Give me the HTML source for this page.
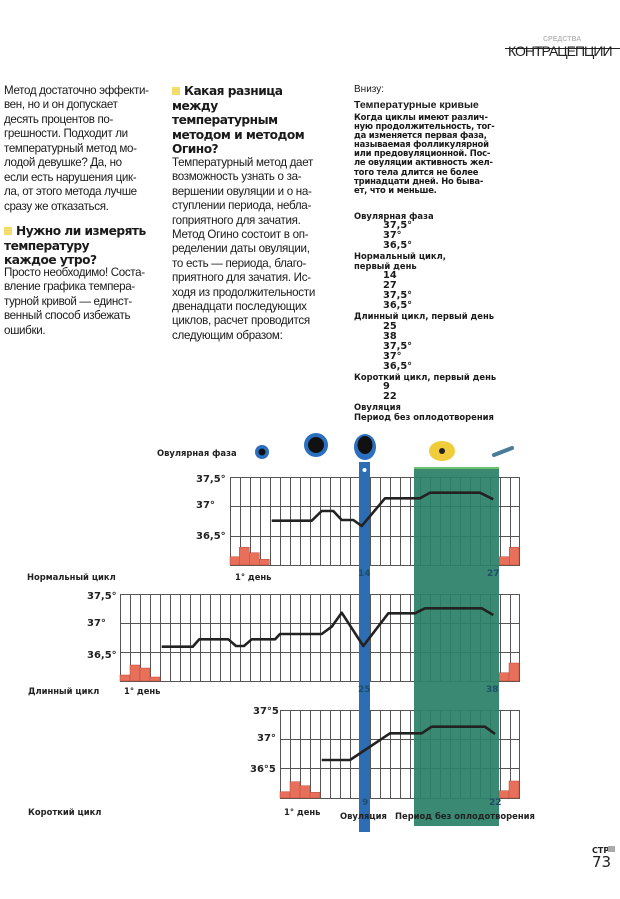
<!DOCTYPE html>
<html><head><meta charset="utf-8"><style>
html,body{margin:0;padding:0;background:#fff;}
body{width:620px;height:899px;position:relative;overflow:hidden;font-family:"Liberation Sans","DejaVu Sans",sans-serif;color:#1a1a1a;}
.t{position:absolute;white-space:nowrap;}
.c1{left:4px;top:84px;font-size:11.6px;line-height:14.45px;letter-spacing:-0.35px;}
.c2{left:172px;font-size:11.6px;line-height:14.4px;letter-spacing:-0.3px;}
.h{font-weight:bold;font-family:"DejaVu Sans","Liberation Sans",sans-serif;font-size:12.2px;line-height:14.5px;letter-spacing:-0.5px;}
.sq{display:inline-block;width:8px;height:8px;background:#f3dc6a;margin-right:4px;}
.r{left:354px;font-size:8.4px;line-height:10.3px;font-weight:bold;font-family:"DejaVu Sans",sans-serif;}
.ind{padding-left:29px;font-size:9.8px}
</style></head><body>
<div class="t" style="left:543px;top:36px;font-size:7px;color:#bbb;font-weight:bold">СРЕДСТВА</div>
<div style="position:absolute;left:505px;top:48px;width:115px;height:1px;background:#222"></div>
<div class="t" style="left:508px;top:43px;font-size:14px;letter-spacing:-1px;color:#222">КОНТРАЦЕПЦИИ</div>

<div class="t c1">Метод достаточно эффекти-<br>вен, но и он допускает<br>десять процентов по-<br>грешности. Подходит ли<br>температурный метод мо-<br>лодой девушке? Да, но<br>если есть нарушения цик-<br>ла, от этого метода лучше<br>сразу же отказаться.</div>
<div class="t h" style="left:4px;top:224px"><span class="sq"></span>Нужно ли измерять<br>температуру<br>каждое утро?</div>
<div class="t c1" style="top:266px">Просто необходимо! Соста-<br>вление графика темпера-<br>турной кривой — единст-<br>венный способ избежать<br>ошибки.</div>

<div class="t h" style="left:172px;top:84px"><span class="sq"></span>Какая разница<br>между<br>температурным<br>методом и методом<br>Огино?</div>
<div class="t c2" style="top:156px">Температурный метод дает<br>возможность узнать о за-<br>вершении овуляции и о на-<br>ступлении периода, небла-<br>гоприятного для зачатия.<br>Метод Огино состоит в оп-<br>ределении даты овуляции,<br>то есть — периода, благо-<br>приятного для зачатия. Ис-<br>ходя из продолжительности<br>двенадцати последующих<br>циклов, расчет проводится<br>следующим образом:</div>

<div class="t" style="left:354px;top:84px;font-size:10px">Внизу:</div>
<div class="t" style="left:354px;top:99px;font-size:10.5px;font-weight:bold">Температурные кривые</div>
<div class="t r" style="top:113px;line-height:9.1px;letter-spacing:-0.2px">Когда циклы имеют различ-<br>ную продолжительность, тог-<br>да изменяется первая фаза,<br>называемая фолликулярной<br>или предовуляционной. Пос-<br>ле овуляции активность жел-<br>того тела длится не более<br>тринадцати дней. Но быва-<br>ет, что и меньше.</div>
<div class="t r" style="top:211px;line-height:10.05px">Овулярная фаза<br><div class="ind">37,5°<br>37°<br>36,5°</div>Нормальный цикл,<br>первый день<br><div class="ind">14<br>27<br>37,5°<br>36,5°</div>Длинный цикл, первый день<br><div class="ind">25<br>38<br>37,5°<br>37°<br>36,5°</div>Короткий цикл, первый день<br><div class="ind">9<br>22</div>Овуляция<br>Период без оплодотворения</div>

<svg width="620" height="899" style="position:absolute;left:0;top:0" font-family="DejaVu Sans, Liberation Sans, sans-serif" font-weight="bold">
<defs>
<pattern id="v1" x="0" y="0" width="10" height="10" patternUnits="userSpaceOnUse"><rect x="0" y="0" width="1" height="10" fill="#555"/></pattern>
</defs>
<g>
<rect x="230" y="477" width="289" height="88" fill="url(#v1)"/>
<rect x="230.5" y="477.5" width="289" height="88" fill="none" stroke="#555"/>
<line x1="230" y1="506.5" x2="519" y2="506.5" stroke="#555"/><line x1="230" y1="536.5" x2="519" y2="536.5" stroke="#555"/>
<rect x="120" y="594" width="399" height="87" fill="url(#v1)"/>
<rect x="120.5" y="594.5" width="399" height="87" fill="none" stroke="#555"/>
<line x1="120" y1="623.5" x2="519" y2="623.5" stroke="#555"/><line x1="120" y1="652.5" x2="519" y2="652.5" stroke="#555"/>
<rect x="280" y="710" width="239" height="88" fill="url(#v1)"/>
<rect x="280.5" y="710.5" width="239" height="88" fill="none" stroke="#555"/>
<line x1="280" y1="739.5" x2="519" y2="739.5" stroke="#555"/><line x1="280" y1="768.5" x2="519" y2="768.5" stroke="#555"/>
</g>
<g fill="#e8705a" stroke="#b94a3a" stroke-width="0.5">
<rect x="230" y="556.7" width="9.3" height="8.3"/><rect x="239.3" y="547.3" width="10" height="17.7"/><rect x="249.3" y="552.7" width="10" height="12.3"/><rect x="259.3" y="559.3" width="10" height="5.7"/>
<rect x="499.3" y="556.7" width="10" height="8.3"/><rect x="509.3" y="547.3" width="9.7" height="17.7"/>
<rect x="120" y="675" width="10" height="6"/><rect x="130" y="665" width="10" height="16"/><rect x="140" y="668" width="10" height="13"/><rect x="150" y="677" width="10" height="4"/>
<rect x="499" y="672.7" width="10" height="8.3"/><rect x="509" y="663" width="10" height="18"/>
<rect x="280" y="791.7" width="10" height="6.3"/><rect x="290" y="781.7" width="10" height="16.3"/><rect x="300" y="785.7" width="10" height="12.3"/><rect x="310" y="792.3" width="10" height="5.7"/>
<rect x="499" y="790.7" width="10" height="7.3"/><rect x="509" y="781" width="10" height="17"/>
</g>
<rect x="414" y="467" width="85" height="359" fill="#2a8068" opacity="0.93"/>
<rect x="414" y="467" width="85" height="2" fill="#6fc06a"/>
<rect x="359" y="462" width="11" height="370" fill="#2c6db4"/>
<circle cx="364.5" cy="470" r="2" fill="#fff"/>
<circle cx="262" cy="452" r="7" fill="#2a6fc0"/><circle cx="262" cy="452" r="3.5" fill="#111"/>
<circle cx="316" cy="445" r="12" fill="#2a6fc0"/><circle cx="316" cy="445" r="8" fill="#111"/>
<ellipse cx="365" cy="447" rx="11" ry="13" fill="#2a6fc0"/><ellipse cx="365" cy="445" rx="7.5" ry="9" fill="#111"/>
<ellipse cx="442" cy="451" rx="13" ry="10" fill="#f0cc3a"/><circle cx="442" cy="451" r="3" fill="#222"/>
<line x1="494" y1="455" x2="512" y2="448" stroke="#4a7c9a" stroke-width="4" stroke-linecap="round"/>
<g fill="none" stroke="#222" stroke-width="2.6" stroke-linejoin="round">
<polyline points="271.7,520.7 311.7,520.7 321.7,511 333.3,511 341.7,520 353.3,520 361.7,526 385,498.3 420,498.3 430,492.7 480,492.7 493.3,499.3"/>
<polyline points="161.7,646.7 192.7,646.7 199.3,639.3 228.3,639.3 236,646 244,646 251.7,639.3 275,639.3 280,634 321.7,634 331.7,626.7 341.7,612.7 363.3,646 388.3,613.3 415,613.3 425,608.3 481.7,608.3 493.3,615"/>
<polyline points="321.7,760 350,760 390,733.3 421.7,733.3 431.7,726.7 485,726.7 495,734"/>
</g>
<g font-size="8.4" fill="#222" font-weight="bold">
<text x="157" y="456">Овулярная фаза</text>
<text x="27" y="580">Нормальный цикл</text>
<text x="28" y="694">Длинный цикл</text>
<text x="28" y="815">Короткий цикл</text>
<text x="235" y="580">1° день</text>
<text x="124" y="694">1° день</text>
<text x="284" y="815">1° день</text>
<text x="340" y="819">Овуляция</text>
<text x="395" y="819">Период без оплодотворения</text>
</g>
<g font-size="10" fill="#222">
<text x="196" y="482">37,5°</text><text x="196" y="508">37°</text><text x="196" y="539">36,5°</text>
<text x="87" y="599">37,5°</text><text x="87" y="626">37°</text><text x="87" y="658">36,5°</text>
<text x="253" y="714">37°5</text><text x="257" y="741">37°</text><text x="250" y="772">36°5</text>
</g>
<g font-size="9" fill="#1d4f6a">
<text x="358" y="576">14</text><text x="487" y="576">27</text>
<text x="358" y="692">25</text><text x="486" y="692">38</text>
<text x="362" y="805">9</text><text x="489" y="805">22</text>
</g>
<text x="592" y="853" font-size="8" fill="#222">СТР</text>
<rect x="608" y="846" width="7" height="6" fill="#aaa"/>
<text x="592" y="867" font-size="15" font-weight="normal" fill="#222">73</text>
</svg>
</body></html>
